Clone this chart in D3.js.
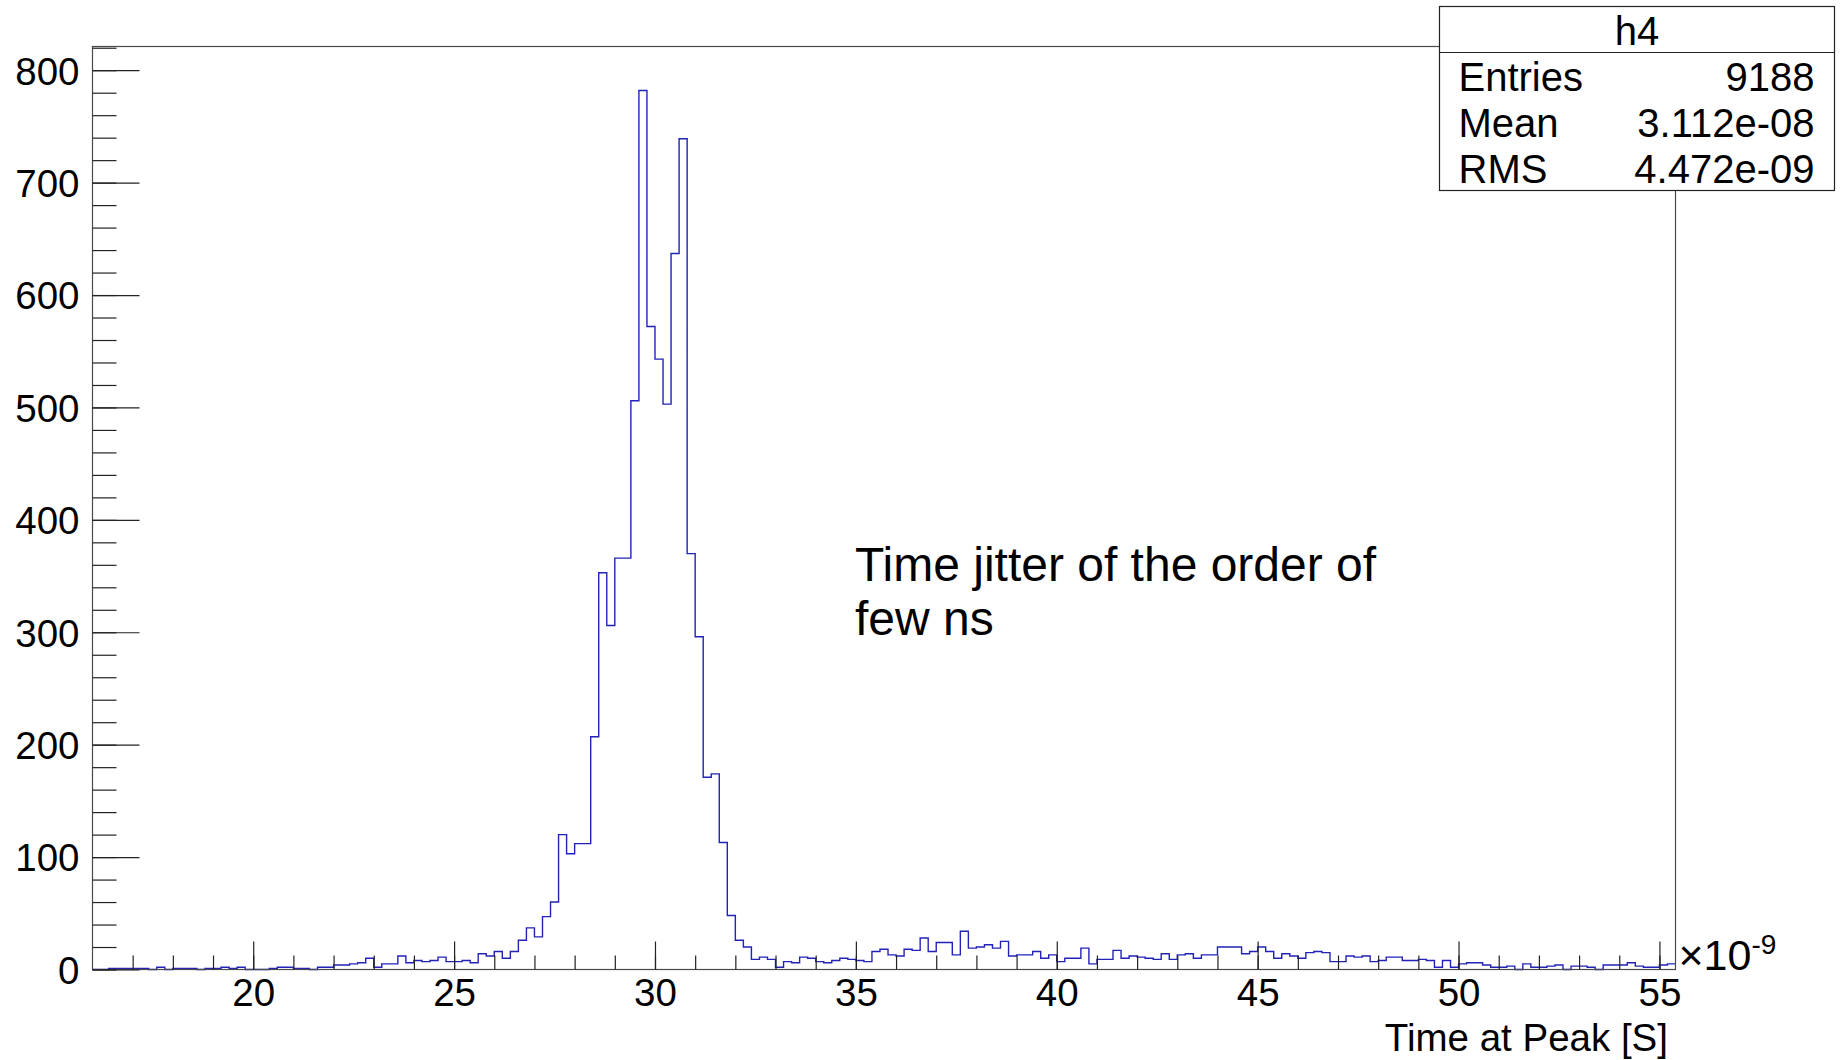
<!DOCTYPE html>
<html>
<head>
<meta charset="utf-8">
<script src="https://cdn.jsdelivr.net/npm/d3@7"></script>
<style>
  html, body { margin: 0; padding: 0; background: #ffffff; }
  svg { display: block; font-family: "Liberation Sans", Arial, Helvetica, sans-serif; }
</style>
</head>
<body>
<svg id="chart" width="1842" height="1060"></svg>
<script>
// histogram h4: 197 bins of 0.2 ns from 16 to 55.4 (x in units of 1e-9 s)
const binLow = 16;
const binWidth = 0.2;
const counts = [
  0, 0, 1, 1, 1, 1, 1, 0, 2, 0,
  1, 1, 1, 0, 1, 1, 2, 1, 2, 0,
  0, 0, 1, 2, 2, 1, 1, 0, 2, 2,
  4, 4, 5, 6, 10, 2, 5, 5, 12, 6,
  8, 7, 8, 11, 7, 7, 8, 6, 14, 12,
  16, 10, 16, 26, 37, 29, 47, 60, 120, 103,
  112, 112, 207, 353, 306, 366, 366, 506, 782, 572,
  543, 503, 637, 739, 370, 296, 171, 174, 113, 48,
  26, 20, 9, 11, 9, 2, 7, 6, 11, 10,
  7, 6, 8, 10, 9, 8, 7, 16, 18, 13,
  12, 18, 17, 28, 16, 24, 24, 13, 34, 19,
  20, 22, 19, 25, 12, 13, 13, 16, 10, 13,
  7, 10, 10, 19, 5, 9, 9, 17, 10, 12,
  11, 10, 9, 14, 9, 13, 14, 10, 13, 13,
  20, 20, 20, 14, 16, 20, 16, 10, 14, 12,
  10, 15, 16, 15, 7, 7, 12, 11, 12, 7,
  8, 11, 11, 8, 8, 9, 8, 2, 8, 2,
  5, 6, 6, 4, 2, 2, 3, 0, 5, 2,
  2, 3, 4, 0, 3, 3, 2, 0, 4, 4,
  4, 6, 3, 2, 2, 4, 5
];

const xMajor = [20, 25, 30, 35, 40, 45, 50, 55];
const xMinor = d3.range(17, 56, 1);
const yMajor = [0, 100, 200, 300, 400, 500, 600, 700, 800];
const yMinor = d3.range(0, 821, 20);

const statTitle = "h4";
const statLabels = ["Entries", "Mean", "RMS"];
const statValues = ["9188", "3.112e-08", "4.472e-09"];

const noteLines = ["Time jitter of the order of", "few ns"];
const xTitle = "Time at Peak [S]";

const frame = { left: 92.5, right: 1675.5, top: 46.5, bottom: 969.5 };
const frameColor = "#4a4a4a";
const histColor = "#2222b8";

const svg = d3.select("#chart");

const x = d3.scaleLinear()
  .domain([binLow, binLow + counts.length * binWidth])
  .range([frame.left, frame.right]);

const y = d3.scaleLinear()
  .domain([0, d3.max(counts) * 1.05])
  .range([frame.bottom, frame.top]);

// histogram outline
const pts = counts.map((c, i) => [binLow + i * binWidth, c]);
pts.push([binLow + counts.length * binWidth, counts[counts.length - 1]]);

const step = d3.line()
  .x(d => x(d[0]))
  .y(d => y(d[1]))
  .curve(d3.curveStepAfter);

svg.append("path")
  .attr("d", step(pts))
  .attr("fill", "none")
  .attr("stroke", histColor)
  .attr("stroke-width", 1.4);

// frame
svg.append("rect")
  .attr("x", frame.left)
  .attr("y", frame.top)
  .attr("width", frame.right - frame.left)
  .attr("height", frame.bottom - frame.top)
  .attr("fill", "none")
  .attr("stroke", frameColor)
  .attr("stroke-width", 1.2);

// x axis, ticks pointing inward
const gxMinor = svg.append("g")
  .attr("transform", `translate(0,${frame.bottom})`)
  .call(d3.axisBottom(x).tickValues(xMinor).tickSize(-14).tickFormat(""));

const gx = svg.append("g")
  .attr("transform", `translate(0,${frame.bottom})`)
  .call(d3.axisBottom(x).tickValues(xMajor).tickSize(-28).tickPadding(9).tickFormat(d3.format("d")));

// y axis
const gyMinor = svg.append("g")
  .attr("transform", `translate(${frame.left},0)`)
  .call(d3.axisLeft(y).tickValues(yMinor).tickSize(-24).tickFormat(""));

const gy = svg.append("g")
  .attr("transform", `translate(${frame.left},0)`)
  .call(d3.axisLeft(y).tickValues(yMajor).tickSize(-47).tickPadding(13).tickFormat(d3.format("d")));

[gxMinor, gx, gyMinor, gy].forEach(g => {
  g.select(".domain").remove();
  g.selectAll("line").attr("stroke", "#222").attr("stroke-width", 1.2);
  g.selectAll("text")
    .attr("fill", "#000")
    .attr("font-size", 38.5)
    .attr("font-family", "Liberation Sans, Arial, sans-serif");
});
gy.selectAll("text").attr("dy", "0.36em");

// exponent on x axis
const expo = svg.append("text")
  .attr("x", frame.right + 3)
  .attr("y", 970)
  .attr("font-size", 43)
  .attr("fill", "#000");
expo.append("tspan").text("\u00d710");
expo.append("tspan")
  .attr("font-size", 28)
  .attr("dy", -16)
  .text("-9");

// axis title
svg.append("text")
  .attr("x", 1668)
  .attr("y", 1051)
  .attr("text-anchor", "end")
  .attr("font-size", 38.5)
  .attr("fill", "#000")
  .text(xTitle);

// annotation
svg.append("g")
  .selectAll("text")
  .data(noteLines)
  .join("text")
  .attr("x", 855)
  .attr("y", (d, i) => 581 + i * 54)
  .attr("font-size", 48)
  .attr("fill", "#000")
  .text(d => d);

// stat box
const box = { left: 1439.5, right: 1834.5, top: 6.5, bottom: 190.5, sep: 52.5 };
const stat = svg.append("g");

stat.append("rect")
  .attr("x", box.left)
  .attr("y", box.top)
  .attr("width", box.right - box.left)
  .attr("height", box.bottom - box.top)
  .attr("fill", "#fff")
  .attr("stroke", "#222")
  .attr("stroke-width", 1.2);

stat.append("line")
  .attr("x1", box.left)
  .attr("x2", box.right)
  .attr("y1", box.sep)
  .attr("y2", box.sep)
  .attr("stroke", "#222")
  .attr("stroke-width", 1.2);

stat.append("text")
  .attr("x", (box.left + box.right) / 2)
  .attr("y", 45)
  .attr("text-anchor", "middle")
  .attr("font-size", 40)
  .text(statTitle);

stat.selectAll("text.lab")
  .data(statLabels)
  .join("text")
  .attr("class", "lab")
  .attr("x", box.left + 19)
  .attr("y", (d, i) => 91 + i * 46)
  .attr("font-size", 40)
  .text(d => d);

stat.selectAll("text.val")
  .data(statValues)
  .join("text")
  .attr("class", "val")
  .attr("x", box.right - 20)
  .attr("y", (d, i) => 91 + i * 46)
  .attr("text-anchor", "end")
  .attr("font-size", 40)
  .text(d => d);
</script>
</body>
</html>
